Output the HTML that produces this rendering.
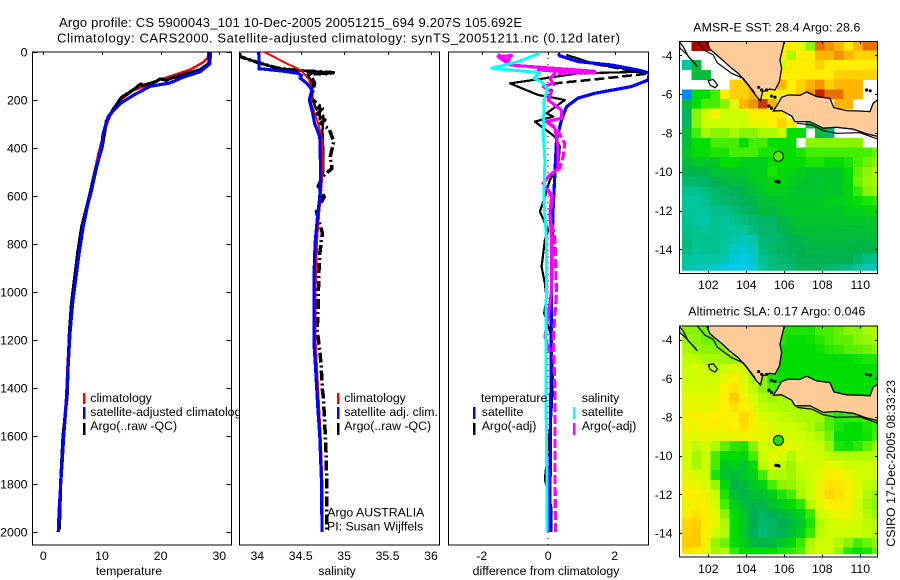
<!DOCTYPE html>
<html lang="en">
<head>
<meta charset="utf-8">
<title>Argo profile CS 5900043_101</title>
<style>
html,body{margin:0;padding:0;background:#fff;}
svg{display:block;}
text{font-family:"Liberation Sans",Arial,sans-serif;font-size:12.3px;fill:#000;}
</style>
</head>
<body>
<svg id="figure" xmlns="http://www.w3.org/2000/svg" width="900" height="580" viewBox="0 0 900 580">
  <defs>
    <clipPath id="clip-temp"><rect x="32.5" y="52" width="199" height="493"/></clipPath>
    <clipPath id="clip-sal"><rect x="239.5" y="52" width="200" height="493"/></clipPath>
    <clipPath id="clip-diff"><rect x="448.5" y="52" width="200" height="493"/></clipPath>
    <clipPath id="clip-sst"><rect x="682" y="41.5" width="195.5" height="229.2"/></clipPath>
    <clipPath id="clip-sla"><rect x="682" y="326" width="195.5" height="228.2"/></clipPath>
    <clipPath id="clip-sst-frame"><rect x="679.5" y="41.5" width="198" height="232"/></clipPath>
    <clipPath id="clip-sla-frame"><rect x="679.5" y="326" width="198" height="231"/></clipPath>
  </defs>
  <rect x="0" y="0" width="900" height="580" fill="#fff"/>

  <text x="59" y="27" textLength="463" lengthAdjust="spacing" style="font-size:13px">Argo profile: CS 5900043_101 10-Dec-2005 20051215_694 9.207S 105.692E</text>
  <text x="57" y="42.5" textLength="563" lengthAdjust="spacing" style="font-size:13px">Climatology: CARS2000. Satellite-adjusted climatology: synTS_20051211.nc (0.12d later)</text>

  <g id="panel-temp"></g>
  <g>
    <rect x="83" y="393" width="2.5" height="11" fill="#ff0000"/>
    <text x="90.3" y="402">climatology</text>
    <rect x="83" y="407" width="2.5" height="12" fill="#0000ff"/>
    <text x="90.3" y="416">satellite-adjusted climatology</text>
    <rect x="83" y="423" width="2.5" height="12" fill="#000"/>
    <text x="90.3" y="430">Argo(..raw -QC)</text>
  </g>
  <text x="129" y="575" text-anchor="middle">temperature</text>

  <g id="panel-sal"></g>
  <g>
    <rect x="337" y="393" width="2.5" height="11" fill="#ff0000"/>
    <text x="344.3" y="402">climatology</text>
    <rect x="337" y="407" width="2.5" height="12" fill="#0000ff"/>
    <text x="344.3" y="416">satellite adj. clim.</text>
    <rect x="337" y="423" width="2.5" height="12" fill="#000"/>
    <text x="344.3" y="430">Argo(..raw -QC)</text>
    <text x="327.3" y="516.7">Argo AUSTRALIA</text>
    <text x="327" y="530.7">PI: Susan Wijffels</text>
  </g>
  <text x="337" y="575" text-anchor="middle">salinity</text>

  <g id="panel-diff"></g>
  <g>
    <text x="481" y="402">temperature</text>
    <rect x="473" y="407" width="2.5" height="12" fill="#0000ff"/>
    <text x="481.7" y="416">satellite</text>
    <rect x="473" y="423" width="2.5" height="12" fill="#000"/>
    <text x="481.7" y="430">Argo(-adj)</text>
    <text x="581.7" y="402">salinity</text>
    <rect x="573" y="407" width="2.5" height="12" fill="#00ffff"/>
    <text x="581.7" y="416">satellite</text>
    <rect x="573" y="423" width="2.5" height="12" fill="#ff00ff"/>
    <text x="581.7" y="430">Argo(-adj)</text>
  </g>
  <text x="546" y="575" text-anchor="middle">difference from climatology</text>

  <g id="map-sst"></g>
  <text x="693.3" y="31.5" textLength="167" lengthAdjust="spacing">AMSR-E SST: 28.4 Argo: 28.6</text>

  <g id="map-sla"></g>
  <text x="688.3" y="315.7" textLength="177" lengthAdjust="spacing">Altimetric SLA: 0.17 Argo: 0.046</text>

  <text transform="translate(895 546.7) rotate(-90)" textLength="166.7" lengthAdjust="spacing">CSIRO 17-Dec-2005 08:33:23</text>
</svg>
<script>
/* ---------- axis tick data ---------- */
const depthTicks = [0,200,400,600,800,1000,1200,1400,1600,1800,2000];
const tempTicks = [0,10,20,30];
const salTicks = [34,34.5,35,35.5,36];
const salTickLabels = ['34','34.5','35','35.5','36'];
const diffTicks = [-2,0,2];
const lonTicks = [102,104,106,108,110];
const latTicks = [-4,-6,-8,-10,-12,-14];

/* ---------- temperature profile ---------- */
const tempClimDepth = [0,21,42,74,93,115,139,160,192,236,320,424,493,604,728,839,950,1047,1172,1297,1436,1600,1800,2000];
const tempClimValues = [28.1,28.1,27.3,25.0,22.7,19.9,17.6,15.3,13.6,11.9,10.5,9.4,8.8,7.95,6.75,6.05,5.45,4.95,4.45,4.15,3.9,3.4,2.95,2.55];
const tempSatDepth = [0,49,83,104,129,143,181,215,243,270,340,400,500,575,645,728,839,950,1047,1172,1297,1436,1500,1600,1700,1800,1900,2000];
const tempSatValues = [28.5,28.4,26.7,23.9,21.6,18.2,15.3,13.1,12.0,11.05,10.2,9.9,8.9,8.24,7.5,6.8,6.1,5.5,5.0,4.55,4.26,3.98,3.8,3.47,3.24,2.96,2.73,2.56];
const tempArgoDepth = [0,40,52,74,93,100,111,118,112,122,128,139,133,153,190,240,290,300,400,500,600,728,839,950,1047,1172,1297,1436,1600,1800,1990];
const tempArgoValues = [28.3,28.3,28.0,26.7,23.9,23.0,21.6,21.0,19.9,19.3,18.6,17.0,16.6,15.6,13.3,11.9,10.7,10.7,10.0,8.8,7.85,6.55,5.85,5.3,4.8,4.45,4.25,4.05,3.35,2.95,2.75];

/* ---------- salinity profile ---------- */
const salClimDepth = [0,44,78,117,158,213,297,367,478,603,679,783,1000,1200,1400,1600,1800,2000];
const salClimValues = [34.08,34.32,34.51,34.60,34.63,34.62,34.70,34.75,34.757,34.73,34.71,34.69,34.67,34.67,34.70,34.73,34.75,34.75];
const salSatDepth = [0,70,71,80,89,98,108,130,158,200,242,297,353,505,603,700,797,936,1103,1214,1297,1436,1500,1600,1800,2000];
const salSatValues = [34.02,34.02,34.07,34.30,34.47,34.51,34.49,34.57,34.63,34.60,34.63,34.66,34.72,34.73,34.72,34.69,34.665,34.653,34.653,34.653,34.668,34.69,34.70,34.72,34.74,34.745];
const salArgoDepth = [5,19,44,68,78,86,93,131,193,235,263,283,297,322,374,436,485,519,561,603,665,755,839,936,1075,1158,1228,1297,1408,1436,1644,1811,2000];
const salArgoValues = [33.8,33.8,34.01,34.24,34.51,34.875,34.61,34.66,34.62,34.75,34.68,34.78,34.73,34.83,34.88,34.84,34.86,34.75,34.70,34.77,34.68,34.75,34.72,34.707,34.70,34.69,34.714,34.734,34.75,34.76,34.79,34.80,34.80];
const salRawDepth = [5,19,44,68,78,86,80,90,84,92,88,93,131,193,240,225,280,265,330,420,500,560,603,665,780,900,1100,1200];
const salRawValues = [33.8,33.8,34.01,34.24,34.51,34.87,34.6,34.85,34.7,34.8,34.62,34.58,34.63,34.63,34.68,34.72,34.72,34.76,34.75,34.76,34.76,34.71,34.73,34.70,34.68,34.66,34.66,34.65];

/* ---------- difference profiles ---------- */
const diffTempSatDepth = [5,16,40,54,75,88,117,144,172,192,228,283,367,505,645,783,1000,1400,1900,2000];
const diffTempSatValues = [0.3,0.35,0.9,1.9,2.7,3.05,3.0,2.5,1.4,0.9,0.55,0.4,0.25,0.2,0.15,0.12,0.1,0.08,0.05,0.05];
const diffSalSatDepth = [5,40,68,72,86,110,124,152,200,338,450,617,783,1400,1900,2000];
const diffSalSatValues = [-0.25,-0.9,-1.7,-1.35,-0.25,-0.43,-0.2,-0.02,-0.12,-0.15,-0.1,-0.13,-0.05,-0.07,-0.03,-0.03];
const diffTempArgoDepth = [12,50,82,89,131,179,193,200,256,269,290,353,394,478,533,603,665,742,783,895,965,1025,1088,1187,1367,1500,1780,1900,2000];
const diffTempArgoValues = [0.55,1.4,2.91,0.9,-1.15,-0.3,0.25,0.5,-0.05,0.15,-0.4,0.2,0.35,0.3,0.05,-0.1,-0.25,0,-0.1,-0.2,-0.1,-0.05,-0.12,0.1,0.14,0.1,-0.1,0.1,0.1];
const diffTempDashDepth = [50,70,90,110,131,160];
const diffTempDashValues = [1.4,2.2,3.0,1.7,0.2,0.1];
const diffSalArgoDepth = [8,19,33,54,85,89,110,131,144,165,200,242,276,290,318,381,436,485,512,547,603,672,776,1000,1200,1400,1700,2000];
const diffSalArgoValues = [-1.45,-1.5,-1.2,-1.15,1.4,0.2,0.05,0.15,-0.15,0.1,0,0.4,0.4,-0.05,0.25,0.5,0.45,0.35,0.05,-0.15,0.15,0.05,0.2,0.25,0.15,0.2,0.2,0.22];
const diffSalRawDepth = [8,19,14,33,26,54,66,80,88,78,74,82,75,90,110,131,144,165,200,242,276,290,318,400,485,512,547,603,672,776,1000,1187,1250];
const diffSalRawValues = [-1.45,-1.5,-1.1,-1.2,-1.45,-1.15,0,1.4,1.4,0,-0.3,0.7,0.2,0.2,0.05,0.15,-0.15,0.1,0,0.4,0.4,-0.05,0.2,0.3,0.3,0.05,-0.15,0.1,0.05,0.1,0.1,-0.1,0.05];

/* ---------- map grids: colour-scale level per 0.5 degree cell; _ = no data ---------- */
const _ = null;
const sstGrid = [
[_,10,10,_,_,_,_,_,_,_,7,7,6.5,5,9,8.5,8,7,8,9,9],
[_,_,_,_,_,_,_,_,_,_,7,5.5,7,7,8,8,8.5,8,7.5,7.5,7.5],
[2.2,3.5,_,_,_,_,_,_,_,_,6,7,7,7,7.5,7,7,7,7,7,7],
[_,3.5,3.5,_,_,_,_,_,_,_,7,7,7,7,7,7,7.5,7.5,7.5,7.5,7.5],
[_,_,_,_,_,7.5,7.5,7.5,7,_,8,7,7.5,8,8.5,7.5,8,8,8,_,_],
[0,4,4,4.5,7,7.5,7.5,8,7,7,7,7,7.5,8.5,9.7,9,9,8,8,_,_],
[3.5,4,4.5,4.5,5,6.5,8,8.5,9.5,8,_,_,_,_,_,_,8,8,_,_,_],
[3,5,6,7,6,6,6,7,7,7,7,_,_,_,_,_,_,_,_,_,_],
[3,5,6,6,6,6,6,6.5,6.5,7,7.5,7,_,3.5,3.5,_,_,_,_,_,_],
[3.5,4.5,5.5,5,5,5.5,5,5,5.5,5.5,6,4,4,_,3.5,2.8,_,_,_,_,_],
[3.5,4,4,4.5,4.5,4.5,4,4.5,4.5,4,4,4,_,5,5,5,5,5,5,_,_],
[3.7,4,4,4.2,4.2,4.5,4.5,4.5,4.2,4.2,4,4,4.2,4.5,4.5,4.5,4.5,4.5,4.5,4.5,4.8],
[3.5,3.7,3.7,3.7,4,4,3.8,3.8,3.8,4,4,4,4,4.2,4.2,4,4,4.2,4.5,4.8,5],
[3.2,3.3,3.3,3.6,3.6,3.7,3.7,3.8,3.8,4.2,3.9,3.9,3.8,3.7,3.7,3.7,3.7,4,4.7,5,5.5],
[2.9,2.9,3,3.2,3.4,3.5,3.5,3.7,3.8,3.9,3.9,3.8,3.7,3.6,3.6,3.7,3.7,3.9,4.8,5.2,5.5],
[2.5,2.5,2.7,2.9,3,3.1,3.3,3.5,3.7,3.8,3.8,3.7,3.6,3.6,3.6,3.7,3.7,3.9,4.4,5,5.2],
[2.4,2.3,2.5,2.8,2.9,3,3.1,3.3,3.5,3.6,3.7,3.7,3.7,3.7,3.7,3.8,3.8,3.9,4,4.2,4.3],
[2.4,2.4,2.4,2.6,2.6,2.8,3,3.1,3.4,3.4,3.6,3.7,3.7,3.7,3.7,3.7,3.7,3.8,3.8,3.9,3.9],
[2.5,2.3,2.2,2.5,2.4,2.5,2.7,2.9,3,3,3.3,3.5,3.6,3.6,3.6,3.6,3.6,3.7,3.7,3.7,3.7],
[2.6,2.5,2.4,2.5,2.4,2.3,2.4,2.7,2.9,2.9,3.1,3.4,3.5,3.5,3.5,3.5,3.5,3.5,3.5,3.6,3.6],
[2.7,2.5,2.5,2.5,2.4,2.2,1.9,2.2,2.8,2.9,3,3.2,3.3,3.4,3.4,3.4,3.4,3.4,3.4,3.4,3.5],
[2.7,2.4,2.5,2.5,2.3,1.8,1.6,1.9,2.7,2.9,3,3.1,3.2,3.3,3.3,3.3,3.3,3.3,3.3,3.3,3.3],
[2.4,2.2,2.3,2.4,2.1,1.5,1.4,1.7,2.5,2.8,2.9,3,3.2,3.2,3.2,3.2,3.2,3.2,2.9,2.6,2.6],
[2.2,2,2,1.6,1.4,1.2,1.2,1.5,2.4,2.7,2.8,2.9,3.1,3.1,3.1,3,2.8,2.7,2.4,2,2]
];
const slaGrid = [
[5,5,4.8,4.8,_,_,_,_,_,_,4.2,4.2,4.2,4.2,4.5,4.5,4.7,5,5,5.5,5.5],
[5.3,5,4.8,4.8,_,_,_,_,_,_,4.2,4,4,4.1,4.3,4.5,4.7,4.7,5,5.2,5.5],
[5.5,5.2,5,5,5,_,_,_,_,_,4,4,4,4,4.1,4.3,4.4,4.6,4.7,4.8,5],
[5.8,5.8,5.5,5.5,5.3,5.3,5.3,_,_,_,4,4,4,4,4,4,4,4,4.1,4.2,4.2],
[6,6.2,6,5.8,6,6.3,6.1,5.6,5,4.5,4,4,4,4,4,4,4,4,4,4,4],
[6,6.1,6.1,6,6.6,6.9,6.3,5.5,5,4.2,4,4,4,4,4,4,4,4,4,4,4],
[6.2,6.2,6.2,6.2,6.9,7.2,6.5,5.8,5,4.5,4.5,4,4,4,4,4,4,4,4,4,4],
[6.4,6.5,6.4,6.5,7,7.6,6.8,6.2,5.6,5.3,5.5,5.5,4.5,4.5,4,4,4,4,4,4,4],
[6.5,6.6,6.5,6.6,6.9,7.2,6.9,6.5,5.9,5.7,5.5,5.5,5.5,5.5,5.3,5,4.5,4.5,4.5,4.5,4.5],
[6.7,6.8,6.8,7,6.9,6.9,7.4,6.9,6.2,6,5.8,5.7,5.5,5.5,5.3,4.6,4.3,4.4,4.4,4.5,4.5],
[6.7,6.6,6.8,6.8,6.8,6.9,7.3,6.8,6.5,6.2,6,6,5.8,5.5,5,4.6,4.2,4,4,4.2,4.4],
[6.4,6.4,6.6,6.5,6.5,6.6,6.8,6.6,6.5,6.4,6.2,6.2,6,5.9,5.5,4.8,4,4,4,4.1,4.5],
[6.3,5.8,6.1,5.5,4.7,4.3,4.2,5,6.2,6,6.6,6.5,6.2,6,5.9,5.2,4.2,4.1,4.3,4.7,5.2],
[6.2,5.4,6,4.5,4,4,3.9,4.5,6,6.5,6.2,5.6,6.2,6.1,6,5.8,5.6,5.6,5.6,5.6,5.8],
[6.2,5.4,6,4.5,3.7,3.8,3.6,4,5.8,6.2,5.8,5.3,6,6,6.3,6.5,6.4,6.1,6,6,6],
[6.5,6.2,6,4.2,3.6,3.5,3.7,3.8,4.5,5.6,5.6,5.4,5.8,6.1,6.4,6.8,6.8,6.5,6.2,6,6],
[6.7,6.5,6.3,5.2,3.9,3.3,3.4,3.7,3.9,4.5,5,5.2,5.6,6,6.6,7.2,7.1,6.8,6.4,5.8,5.7],
[6.9,6.9,6.5,6,4.2,3.5,3.3,3.5,3.6,3.8,4.2,4.5,5.5,6,6.7,7.4,7.2,6.8,6.4,5.6,5.2],
[6.7,6.9,6.8,6.2,4.5,3.8,3.5,3.3,3.3,3.6,3.8,4,4.3,5.7,6.4,7,7,6.8,6.2,5.4,5],
[7,7.2,7,6.4,5,4,3.7,3.2,3,3.2,3.4,3.6,3.8,4.4,6,6.4,6.6,6.5,6.2,5.6,5.2],
[7.4,7.5,7,6.5,5.6,4,3.7,3.2,2.9,3,3.2,3.4,3.7,4.2,5.6,6,6.2,6.2,6.1,5.8,5.6],
[7.5,7.6,7,6,5.6,4,3.7,3.1,2.8,3,3.1,3.5,3.8,4.4,5.7,6,6,6,6,5.8,5.6],
[7.6,7.6,6.6,5.2,4.8,4,3.8,3.4,3.3,3.4,3.7,3.9,4.4,5.6,6,6,5.6,5,4.5,4.8,5.2],
[7.2,7,6.5,5.4,5.6,4.4,4,4,4,4,4.2,4.3,4.6,5.8,6.2,6,5.2,4.3,4,4.2,4.8]
];
const sstFloat = {lon:105.692, lat:-9.207, level:4.6};
const slaFloat = {lon:105.692, lat:-9.207, level:4.2};

/* ---------- coastlines, as [lon,lat] ---------- */
const sumatraCoast = [[101.88,-3.2],[102.09,-3.69],[102.75,-4.24],[103.23,-4.67],[103.58,-4.93],[104.02,-5.44],[104.54,-6.13],[104.75,-6.34],[104.86,-5.87],[105.25,-5.74],[105.51,-5.79],[105.74,-5.36],[105.86,-4.67],[105.77,-4.24],[105.98,-3.38],[105.98,-3.2]];
const javaCoast = [[105.86,-6.16],[106.21,-6.04],[106.82,-6.06],[107.18,-5.89],[107.7,-6.13],[108.4,-6.22],[108.61,-6.7],[109.28,-6.85],[109.98,-6.87],[110.51,-6.9],[110.68,-6.47],[110.95,-6.27],[110.95,-8.19],[110.33,-8.05],[109.63,-7.81],[108.75,-7.71],[108.05,-7.76],[107.35,-7.42],[106.56,-7.42],[106.39,-7.13],[105.86,-6.85],[105.42,-6.87],[105.63,-6.56]];
const sumatraShelf = [[101.35,-3.2],[101.82,-3.76],[102.26,-3.98],[102.47,-4.38],[103.23,-4.93],[103.84,-5.19],[104.46,-5.96]];
const javaShelf = [[106.65,-7.5],[107.44,-7.59],[108.05,-7.88],[108.75,-8.02],[109.98,-7.99],[110.95,-8.33]];
const mentawaiIsland = [[100.47,-3.3],[100.68,-3.55],[100.95,-4.07],[101.3,-4.41],[101.42,-4.58],[101.12,-4.24],[100.82,-3.9],[100.51,-3.64]];
const engganoIsland = [[102,-5.31],[102.26,-5.24],[102.49,-5.53],[102.35,-5.67],[102.09,-5.53]];
const smallIslands = [[105.56,-10.5],[105.64,-10.51],[105.72,-10.53],[110.33,-5.79],[110.52,-5.83],[104.65,-5.65],[104.81,-5.79],[105.07,-5.79],[105.33,-6.1],[105.51,-6.16],[105.19,-6.61],[105.33,-6.73]];

/* ---------- colour scale for both maps (levels and colours) ---------- */
const colourLevels = [0,1.2,2.4,3.2,3.7,4,4.5,5,6,7,8,9,10];
const colourRamp = ['#0088ff','#00ccee','#00c49a','#00b050','#00c828','#00dd00','#44ee00','#88f400','#ccff00','#ffee00','#ffb400','#e87000','#b00000'];

const NS = 'http://www.w3.org/2000/svg';
function hex2(c){return [parseInt(c.slice(1,3),16),parseInt(c.slice(3,5),16),parseInt(c.slice(5,7),16)];}
function levelColour(v){
  let i=0;
  while(i<colourLevels.length-2 && v>colourLevels[i+1]) i++;
  const t=Math.max(0,Math.min(1,(v-colourLevels[i])/(colourLevels[i+1]-colourLevels[i])));
  const a=hex2(colourRamp[i]),b=hex2(colourRamp[i+1]);
  return 'rgb('+a.map((x,k)=>Math.round(x+(b[k]-x)*t)).join(',')+')';
}
function svgEl(parent,tag,attrs){
  const el=document.createElementNS(NS,tag);
  for(const k in attrs) el.setAttribute(k,attrs[k]);
  parent.appendChild(el);
  return el;
}
function linear(d0,p0,d1,p1){return v=>p0+(v-d0)*(p1-p0)/(d1-d0);}

/* ---------- profile panels ---------- */
const PLOT_TOP=52, PLOT_BOTTOM=545;
const depthY = linear(0,52,2000,532);
function drawFrame(g,left,right){
  const r=svgEl(g,'rect',{x:left,y:PLOT_TOP,width:right-left,height:PLOT_BOTTOM-PLOT_TOP,fill:'#fff',stroke:'#000','stroke-width':1,'shape-rendering':'crispEdges'});
  
  
}
function drawProfile(g,clip,xs,depths,values,colour,width,dash,seriesName){
  const pts=depths.map((d,i)=>xs(values[i]).toFixed(1)+','+depthY(d).toFixed(1)).join(' ');
  const attrs={points:pts,fill:'none',stroke:colour,'stroke-width':width,'clip-path':'url(#'+clip+')','stroke-linejoin':'round','shape-rendering':'crispEdges'};
  if(dash) attrs['stroke-dasharray']=dash;
  const el=svgEl(g,'polyline',attrs);
  
  
}
function drawXTicks(g,xs,ticks,labels){
  ticks.forEach((t,i)=>{
    const x=Math.round(xs(t))+0.5;
    const tk=svgEl(g,'line',{x1:x,x2:x,y1:PLOT_TOP,y2:PLOT_TOP+3,stroke:'#000','shape-rendering':'crispEdges'});
    
    
    const tx=svgEl(g,'text',{x:xs(t),y:560,'text-anchor':'middle'});
    
    
    tx.textContent=labels[i];
  });
}

/* temperature */
const gT=document.getElementById('panel-temp');
const xT=linear(0,43.3,30,219.3);
drawFrame(gT,32.5,231.5);
depthTicks.forEach(d=>{
  const y=Math.round(depthY(d))+0.5;
  [[32.5,37.5],[226.5,231.5]].forEach(p=>{
    const tk=svgEl(gT,'line',{x1:p[0],x2:p[1],y1:y,y2:y,stroke:'#000','shape-rendering':'crispEdges'});
    
    
  });
  const tx=svgEl(gT,'text',{x:27.5,y:depthY(d)+4.5,'text-anchor':'end'});
  
  
  tx.textContent=String(d);
});
drawXTicks(gT,xT,tempTicks,tempTicks.map(String));
drawProfile(gT,'clip-temp',xT,tempClimDepth,tempClimValues,'#ff0000',2.5,null,'temperature-climatology-line');
drawProfile(gT,'clip-temp',xT,tempArgoDepth,tempArgoValues,'#000',3.2,null,'temperature-argo-line');
drawProfile(gT,'clip-temp',xT,tempSatDepth,tempSatValues,'#0000ff',3.2,null,'temperature-satellite-line');

/* salinity */
const gS=document.getElementById('panel-sal');
const xS=linear(34,257.3,36,431);
drawFrame(gS,239.5,439.5);
drawXTicks(gS,xS,salTicks,salTickLabels);
drawProfile(gS,'clip-sal',xS,salRawDepth,salRawValues,'#000',2.5,null,'salinity-argo-raw-line');
drawProfile(gS,'clip-sal',xS,salArgoDepth,salArgoValues,'#000',3.5,'10 3 2 3','salinity-argo-qc-line');
drawProfile(gS,'clip-sal',xS,salClimDepth,salClimValues,'#ff0000',2,null,'salinity-climatology-line');
drawProfile(gS,'clip-sal',xS,salSatDepth,salSatValues,'#0000ff',3.2,null,'salinity-satellite-line');

/* difference */
const gD=document.getElementById('panel-diff');
const xD=linear(-2,481.7,2,614.7);
drawFrame(gD,448.5,648.5);
drawXTicks(gD,xD,diffTicks,['-2','0','2']);
const zero=svgEl(gD,'line',{x1:xD(0),x2:xD(0),y1:PLOT_TOP,y2:PLOT_BOTTOM,stroke:'#000','stroke-width':1,'stroke-dasharray':'1 5','shape-rendering':'crispEdges'});


drawProfile(gD,'clip-diff',xD,diffTempArgoDepth,diffTempArgoValues,'#000',2.2,null,'difference-temp-argo-raw-line');
drawProfile(gD,'clip-diff',xD,diffTempDashDepth,diffTempDashValues,'#000',2.5,'10 4','difference-temp-argo-adj-line');
drawProfile(gD,'clip-diff',xD,diffTempSatDepth,diffTempSatValues,'#0000ff',3.2,null,'difference-temp-satellite-line');
drawProfile(gD,'clip-diff',xD,diffSalRawDepth,diffSalRawValues,'#ff00ff',3,null,'difference-sal-argo-raw-line');
drawProfile(gD,'clip-diff',xD,diffSalArgoDepth,diffSalArgoValues,'#ff00ff',3.2,'9 3','difference-sal-argo-adj-line');
drawProfile(gD,'clip-diff',xD,diffSalSatDepth,diffSalSatValues,'#00ffff',3,null,'difference-sal-satellite-line');

/* ---------- maps ---------- */
const CELL_LON0=100.62, CELL_LAT0=-3.25, CELL_STEP=0.5;
function drawMap(g,cfg,grid,float){
  const lonX=linear(102,708.3,110,860.3);
  const latY=linear(-4,cfg.y4,-14,cfg.y14);
  const bg=svgEl(g,'rect',{x:679.5,y:cfg.top,width:198,height:cfg.bottom-cfg.top,fill:'#fff'});
  
  
  const cells=svgEl(g,'g',{'clip-path':'url(#'+cfg.clip+')'});
  
  
  grid.forEach((row,r)=>{
    row.forEach((v,c)=>{
      if(v===null) return;
      const x0=lonX(CELL_LON0+c*CELL_STEP), x1=lonX(CELL_LON0+(c+1)*CELL_STEP);
      const y0=latY(CELL_LAT0-r*CELL_STEP), y1=latY(CELL_LAT0-(r+1)*CELL_STEP);
      const cell=svgEl(cells,'rect',{x:x0.toFixed(1),y:y0.toFixed(1),width:(x1-x0+0.4).toFixed(1),height:(y1-y0+0.4).toFixed(1),fill:levelColour(v),'shape-rendering':'crispEdges'});
      
      
    });
  });
  const geo=svgEl(g,'g',{'clip-path':'url(#'+cfg.frameClip+')'});
  
  
  const toPts=a=>a.map(p=>lonX(p[0]).toFixed(1)+','+latY(p[1]).toFixed(1)).join(' ');
  [sumatraCoast,javaCoast].forEach(a=>{
    const land=svgEl(geo,'polygon',{points:toPts(a),fill:'#ffcc99',stroke:'#000','stroke-width':1.3});
    
    
  });
  [sumatraShelf,javaShelf].forEach(a=>{
    const shelf=svgEl(geo,'polyline',{points:toPts(a),fill:'none',stroke:'#000','stroke-width':1.2});
    
    
  });
  [mentawaiIsland,engganoIsland].forEach(a=>{
    const isl=svgEl(geo,'polygon',{points:toPts(a),fill:'none',stroke:'#000','stroke-width':1.2});
    
    
  });
  smallIslands.forEach(p=>{
    const dot=svgEl(geo,'circle',{cx:lonX(p[0]),cy:latY(p[1]),r:1.6,fill:'#000'});
    
    
  });
  const marker=svgEl(g,'circle',{cx:lonX(float.lon),cy:latY(float.lat),r:5,fill:levelColour(float.level),stroke:'#000','stroke-width':1});
  
  
  const frame=svgEl(g,'rect',{x:679.5,y:cfg.top,width:198,height:cfg.bottom-cfg.top,fill:'none',stroke:'#000','shape-rendering':'crispEdges'});
  
  
  lonTicks.forEach(t=>{
    const x=Math.round(lonX(t))+0.5;
    [[cfg.top,cfg.top+2.5],[cfg.bottom-2.5,cfg.bottom]].forEach(p=>{
      const tk=svgEl(g,'line',{x1:x,x2:x,y1:p[0],y2:p[1],stroke:'#000','shape-rendering':'crispEdges'});
      
      
    });
    const tx=svgEl(g,'text',{x:lonX(t),y:cfg.labelY,'text-anchor':'middle'});
    
    
    tx.textContent=String(t);
  });
  latTicks.forEach(t=>{
    const y=Math.round(latY(t))+0.5;
    [[679.5,682],[875,877.5]].forEach(p=>{
      const tk=svgEl(g,'line',{x1:p[0],x2:p[1],y1:y,y2:y,stroke:'#000','shape-rendering':'crispEdges'});
      
      
    });
    const tx=svgEl(g,'text',{x:672.5,y:latY(t)+4.5,'text-anchor':'end'});
    
    
    tx.textContent=String(t);
  });
}
drawMap(document.getElementById('map-sst'),{top:41.5,bottom:273.5,y4:55.3,y14:249.3,labelY:289,clip:'clip-sst',frameClip:'clip-sst-frame'},sstGrid,sstFloat);
drawMap(document.getElementById('map-sla'),{top:326,bottom:557,y4:339.7,y14:533,labelY:573,clip:'clip-sla',frameClip:'clip-sla-frame'},slaGrid,slaFloat);
</script>
</body>
</html>
